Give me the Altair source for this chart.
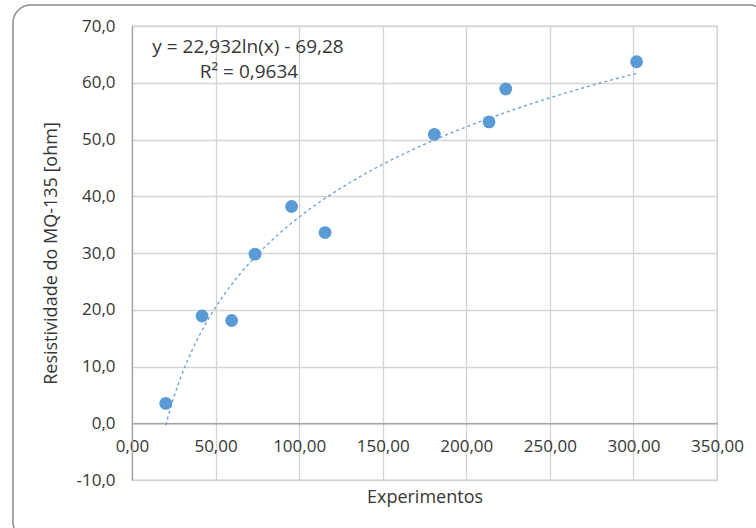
import altair as alt
import pandas as pd

# Measured sensor resistivity per experiment
experimentos = [20.2, 41.9, 59.6, 73.6, 95.5, 115.5, 180.9, 213.6, 223.6, 301.9]
resistividade = [3.5, 18.9, 18.1, 29.8, 38.2, 33.6, 50.9, 53.1, 58.9, 63.7]

# Logarithmic trendline: y = a*ln(x) + b
TREND_A = 22.932
TREND_B = -69.28
equation_lines = ["y = 22,932ln(x) - 69,28", "R² = 0,9634"]

x_ticks = [0, 50, 100, 150, 200, 250, 300, 350]
y_ticks = [-10, 0, 10, 20, 30, 40, 50, 60, 70]

W, H = 585, 454
Y_MIN, Y_MAX = -10, 70
zero_offset = -H * (0 - Y_MIN) / (Y_MAX - Y_MIN)

BLUE = "#5B9BD5"
TEXT = "#363636"
GRID = "#d4d4d4"
AXIS_LINE = "#a6a6a6"
FONT = "Open Sans"


def pt_format(spec):
    # decimal comma and a plain hyphen for negatives
    return f"replace(replace(format(datum.value, '{spec}'), '.', ','), '\u2212', '-')"


df = pd.DataFrame({"x": experimentos, "y": resistividade})

x_scale = alt.Scale(domain=[0, 350], nice=False, zero=False)
y_scale = alt.Scale(domain=[Y_MIN, Y_MAX], nice=False, zero=False)

x_axis = alt.Axis(
    title="Experimentos", values=x_ticks, offset=zero_offset,
    labelExpr=pt_format(".2f"),
    ticks=False, labelPadding=15, labelFlush=False, labelOverlap=False,
    labelFontSize=17, labelColor=TEXT, titleFontSize=18, titleColor=TEXT,
    titleFontWeight="normal", titleY=74, titleBaseline="middle",
    domainColor=AXIS_LINE, domainWidth=1.3,
    grid=True, gridColor=GRID, gridWidth=1.3,
)
y_axis = alt.Axis(
    title="Resistividade do MQ-135 [ohm]", values=y_ticks,
    labelExpr=pt_format(".1f"),
    ticks=False, labelPadding=17, labelFlush=False, labelOverlap=False,
    labelFontSize=17, labelColor=TEXT, titleFontSize=18, titleColor=TEXT,
    titleFontWeight="normal", titleX=-81, titleY=H / 2, titleBaseline="middle",
    domainColor=AXIS_LINE, domainWidth=1.3,
    grid=True, gridColor=GRID, gridWidth=1.3,
)

# Rounded chart border
frame = alt.Chart(alt.Data(values=[{}])).mark_rect(
    fill="white", fillOpacity=0, stroke="#8c8c8c", strokeWidth=1.5, cornerRadius=18
).encode(
    x=alt.value(-119), x2=alt.value(W + 50), y=alt.value(-21), y2=alt.value(H + 60)
)

trend = alt.Chart(
    alt.sequence(start=min(experimentos), stop=max(experimentos) + 0.5, step=0.5, as_="x")
).transform_calculate(
    y=f"{TREND_A} * log(datum.x) + ({TREND_B})"
).mark_line(color=BLUE, strokeWidth=1.4, strokeDash=[3, 3], opacity=0.9).encode(
    x=alt.X("x:Q", scale=x_scale, axis=x_axis),
    y=alt.Y("y:Q", scale=y_scale, axis=y_axis),
)

points = alt.Chart(df).mark_circle(color=BLUE, size=165, opacity=1).encode(
    x=alt.X("x:Q", scale=x_scale),
    y=alt.Y("y:Q", scale=y_scale),
)

eq1 = alt.Chart(alt.Data(values=[{"t": equation_lines[0]}])).mark_text(
    font=FONT, fontSize=19, color=TEXT, align="center", baseline="middle"
).encode(text="t:N", x=alt.value(116), y=alt.value(21))
eq2 = alt.Chart(alt.Data(values=[{"t": equation_lines[1]}])).mark_text(
    font=FONT, fontSize=19, color=TEXT, align="center", baseline="middle"
).encode(text="t:N", x=alt.value(117), y=alt.value(46))

chart = alt.layer(frame, trend, points, eq1, eq2).properties(
    width=W, height=H,
    padding={"left": 132, "top": 26, "right": 39, "bottom": 48},
    autosize=alt.AutoSizeParams(type="none"),
    background="white",
).configure(font=FONT).configure_view(stroke=GRID, strokeWidth=1.3)

chart.save("out.html", embed_options={"renderer": "svg", "actions": False})
